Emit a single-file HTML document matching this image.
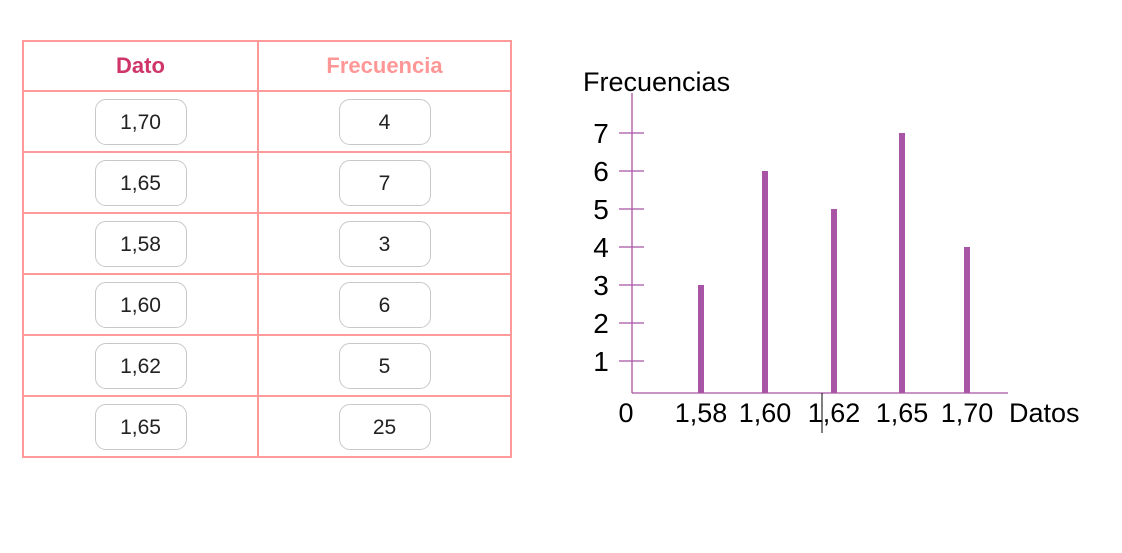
<!DOCTYPE html>
<html><head><meta charset="utf-8"><style>
body{margin:0;width:1122px;height:553px;background:#fff;position:relative;font-family:"Liberation Sans",sans-serif;overflow:hidden}
table{position:absolute;left:22px;top:40px;border-collapse:collapse}
td,th{border:2px solid #ff9a9a;padding:0;text-align:center}
th{height:48px;font-size:22px;font-weight:bold}
td{height:59px}
.c1{width:233px}.c2{width:251px}
.pill{display:inline-block;width:90px;height:44px;line-height:46px;border:1px solid #c8c8c8;border-radius:11px;font-size:21px;color:#222}
svg{position:absolute;left:0;top:0}
</style></head><body>
<table>
<tr><th class="c1" style="color:#d0356a">Dato</th><th class="c2" style="color:#ff9797">Frecuencia</th></tr>
<tr><td><span class="pill">1,70</span></td><td><span class="pill">4</span></td></tr>
<tr><td><span class="pill">1,65</span></td><td><span class="pill">7</span></td></tr>
<tr><td><span class="pill">1,58</span></td><td><span class="pill">3</span></td></tr>
<tr><td><span class="pill">1,60</span></td><td><span class="pill">6</span></td></tr>
<tr><td><span class="pill">1,62</span></td><td><span class="pill">5</span></td></tr>
<tr><td><span class="pill">1,65</span></td><td><span class="pill">25</span></td></tr>
</table>
<svg id="chart" width="1122" height="553"></svg>
<script>
const categories=["1,58","1,60","1,62","1,65","1,70"];
const values=[3,6,5,7,4];
const yTicks=[1,2,3,4,5,6,7];
const NS="http://www.w3.org/2000/svg";
const svg=document.getElementById('chart');
const y=v=>399-38*v;
const xPos=[701,765,834,902,967];
const x=i=>xPos[i];
function mk(t,a,txt){const e=document.createElementNS(NS,t);for(const k in a)e.setAttribute(k,a[k]);if(txt!==undefined)e.textContent=txt;svg.appendChild(e);return e;}
let e;
e=mk('line',{x1:632,y1:93,x2:632,y2:393,stroke:'#a855a5','stroke-width':1.3});


e=mk('line',{x1:632,y1:393,x2:1008,y2:393,stroke:'#a855a5','stroke-width':1.3});


e=mk('text',{x:583,y:91,'font-size':27,fill:'#000'},'Frecuencias');


yTicks.forEach(v=>{
 e=mk('line',{x1:619,y1:y(v),x2:644,y2:y(v),stroke:'#a855a5','stroke-width':1.3});
 
 
 e=mk('text',{x:601,y:y(v)+10,'font-size':28,fill:'#000','text-anchor':'middle'},v);
 
 
});
e=mk('text',{x:626,y:422,'font-size':27,fill:'#000','text-anchor':'middle'},'0');


categories.forEach((c,i)=>{
 e=mk('rect',{x:x(i)-3,y:y(values[i]),width:6,height:393-y(values[i]),fill:'#a855a5'});
 
 
 e=mk('text',{x:x(i),y:422,'font-size':27,fill:'#000','text-anchor':'middle'},c);
 
 
});
e=mk('text',{x:1009,y:422,'font-size':27,fill:'#000'},'Datos');


e=mk('line',{x1:822,y1:393,x2:822,y2:433,stroke:'#000','stroke-width':1});


</script>
</body></html>
